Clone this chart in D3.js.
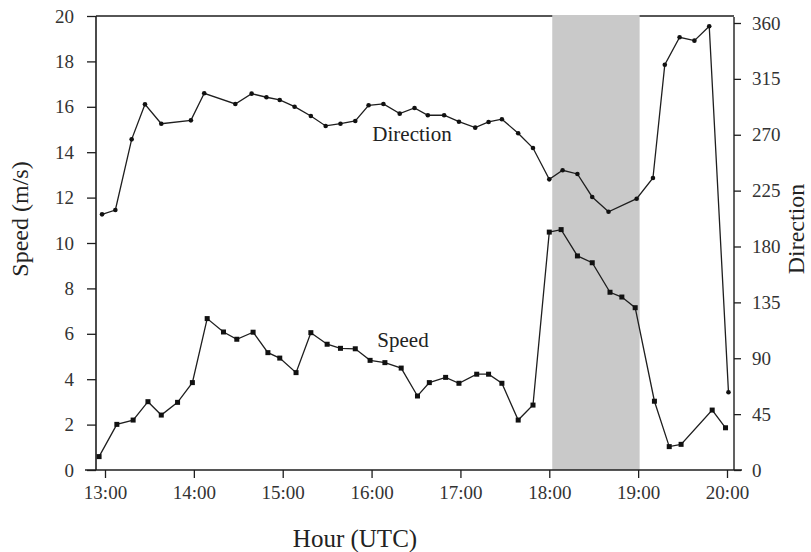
<!DOCTYPE html>
<html>
<head>
<meta charset="utf-8">
<script src="https://cdn.jsdelivr.net/npm/d3@7"></script>
<style>
  html, body { margin: 0; padding: 0; background: #fff; }
  svg { display: block; }
  text { font-family: "Liberation Serif", "DejaVu Serif", serif; }
</style>
</head>
<body>
<svg id="chart" width="811" height="552"></svg>
<script>
// ---- data ----
const speedTimes = ["12:56","13:08","13:19","13:29","13:38","13:49","13:59","14:09","14:20","14:29",
  "14:40","14:50","14:58","15:09","15:19","15:30","15:39","15:49","15:59","16:09",
  "16:20","16:31","16:39","16:50","16:59","17:11","17:19","17:28","17:39","17:49",
  "18:00","18:08","18:19","18:29","18:41","18:49","18:58","19:11","19:21","19:29",
  "19:50","19:59"];
const speedValues = [0.59,2.01,2.20,3.01,2.42,2.98,3.85,6.67,6.08,5.76,
  6.07,5.17,4.93,4.29,6.05,5.54,5.36,5.34,4.83,4.73,
  4.49,3.26,3.85,4.08,3.82,4.22,4.22,3.82,2.20,2.86,
  10.48,10.59,9.43,9.13,7.83,7.62,7.15,3.03,1.03,1.13,
  2.64,1.86];
const dirTimes = ["12:58","13:07","13:18","13:27","13:38","13:58","14:07","14:28","14:39","14:49",
  "14:58","15:08","15:19","15:29","15:39","15:49","15:58","16:08","16:19","16:29",
  "16:38","16:49","16:59","17:10","17:19","17:28","17:39","17:49","18:00","18:09",
  "18:19","18:29","18:40","18:59","19:10","19:18","19:28","19:38","19:48","20:01"];
const dirValues = [205.9,209.4,266.3,294.5,278.9,281.6,303.4,294.8,303.1,300.2,
  298.0,292.6,285.1,277.1,278.9,281.1,293.7,294.8,287.0,291.6,
  285.7,285.7,280.5,275.7,280.3,282.5,271.2,259.3,234.1,241.4,
  238.4,219.9,208.0,218.5,235.2,326.4,348.5,345.8,357.4,62.6];
const hourTicks = ["13:00","14:00","15:00","16:00","17:00","18:00","19:00","20:00"];
const speedTicks = [0,2,4,6,8,10,12,14,16,18,20];
const dirTicks = [0,45,90,135,180,225,270,315,360];
const shadeWindow = ["18:02","19:01"];
const labels = { x: "Hour (UTC)", yLeft: "Speed (m/s)", yRight: "Direction", speed: "Speed", dir: "Direction" };

// ---- helpers ----
const toH = s => { const [h, m] = s.split(":").map(Number); return h + m / 60; };

// ---- layout ----
const svg = d3.select("#chart");
const pL = 96, pR = 734, pT = 16, pB = 470;
const x = d3.scaleLinear().domain([13, 20]).range([105, 727]);
const yS = d3.scaleLinear().domain([0, 20]).range([pB, pT]);
const yD = d3.scaleLinear().domain([0, 360]).range([pB, 23]);
const ink = "#1e1e1e";
const tickInk = "#333";

// top border (behind shading)
svg.append("line").attr("x1", pL).attr("x2", pR).attr("y1", pT).attr("y2", pT)
  .attr("stroke", ink).attr("stroke-width", 1.4);

// shaded window
svg.append("rect")
  .attr("x", x(toH(shadeWindow[0])))
  .attr("width", x(toH(shadeWindow[1])) - x(toH(shadeWindow[0])))
  .attr("y", pT - 1).attr("height", pB - pT + 1)
  .attr("fill", "#c9c9c9");

// axes
const fontSize = 19;
const gL = svg.append("g").attr("transform", `translate(${pL},0)`)
  .call(d3.axisLeft(yS).tickValues(speedTicks).tickFormat(d3.format("d")).tickSize(9).tickPadding(13));
const gR = svg.append("g").attr("transform", `translate(${pR},0)`)
  .call(d3.axisRight(yD).tickValues(dirTicks).tickFormat(d3.format("d")).tickSize(7).tickPadding(11));
const gB = svg.append("g").attr("transform", `translate(0,${pB})`)
  .call(d3.axisBottom(x).tickValues(hourTicks.map(toH)).tickFormat((d, i) => hourTicks[i]).tickSize(8).tickPadding(7.5));
[gL, gR, gB].forEach(g => {
  g.select(".domain").remove();
  g.selectAll(".tick line").attr("stroke", ink).attr("stroke-width", 1.3);
  g.selectAll(".tick text").attr("fill", tickInk).style("font-size", fontSize + "px")
    .style("font-family", "'Liberation Serif', serif");
});

// axis lines
svg.append("line").attr("x1", pL).attr("x2", pL).attr("y1", pT).attr("y2", pB)
  .attr("stroke", ink).attr("stroke-width", 1.6);
svg.append("line").attr("x1", pR).attr("x2", pR).attr("y1", pT + 1).attr("y2", pB)
  .attr("stroke", ink).attr("stroke-width", 1.4);
svg.append("line").attr("x1", 85).attr("x2", 742).attr("y1", pB).attr("y2", pB)
  .attr("stroke", ink).attr("stroke-width", 1.6);

// series
const speed = speedTimes.map((t, i) => ({ h: toH(t), v: speedValues[i] }));
const dir = dirTimes.map((t, i) => ({ h: toH(t), v: dirValues[i] }));

svg.append("path").datum(dir)
  .attr("d", d3.line().x(d => x(d.h)).y(d => yD(d.v)))
  .attr("fill", "none").attr("stroke", ink).attr("stroke-width", 1.3);
svg.append("g").selectAll("circle").data(dir).join("circle")
  .attr("cx", d => x(d.h)).attr("cy", d => yD(d.v)).attr("r", 2.3).attr("fill", "#111");

svg.append("path").datum(speed)
  .attr("d", d3.line().x(d => x(d.h)).y(d => yS(d.v)))
  .attr("fill", "none").attr("stroke", ink).attr("stroke-width", 1.3);
const sq = 5;
svg.append("g").selectAll("rect").data(speed).join("rect")
  .attr("x", d => x(d.h) - sq / 2).attr("y", d => yS(d.v) - sq / 2)
  .attr("width", sq).attr("height", sq).attr("fill", "#111");

// in-plot labels
svg.append("text").attr("x", 412).attr("y", 141).attr("text-anchor", "middle")
  .style("font-size", "21px").attr("fill", "#222").text(labels.dir);
svg.append("text").attr("x", 403).attr("y", 347).attr("text-anchor", "middle")
  .style("font-size", "21px").attr("fill", "#222").text(labels.speed);

// axis titles
svg.append("text").attr("x", 355).attr("y", 547).attr("text-anchor", "middle")
  .style("font-size", "25px").attr("fill", "#222").text(labels.x);
svg.append("text").attr("transform", "translate(28,219) rotate(-90)").attr("text-anchor", "middle")
  .style("font-size", "24px").attr("fill", "#222").text(labels.yLeft);
svg.append("text").attr("transform", "translate(804,229) rotate(-90)").attr("text-anchor", "middle")
  .style("font-size", "24px").attr("fill", "#222").text(labels.yRight);
</script>
</body>
</html>
